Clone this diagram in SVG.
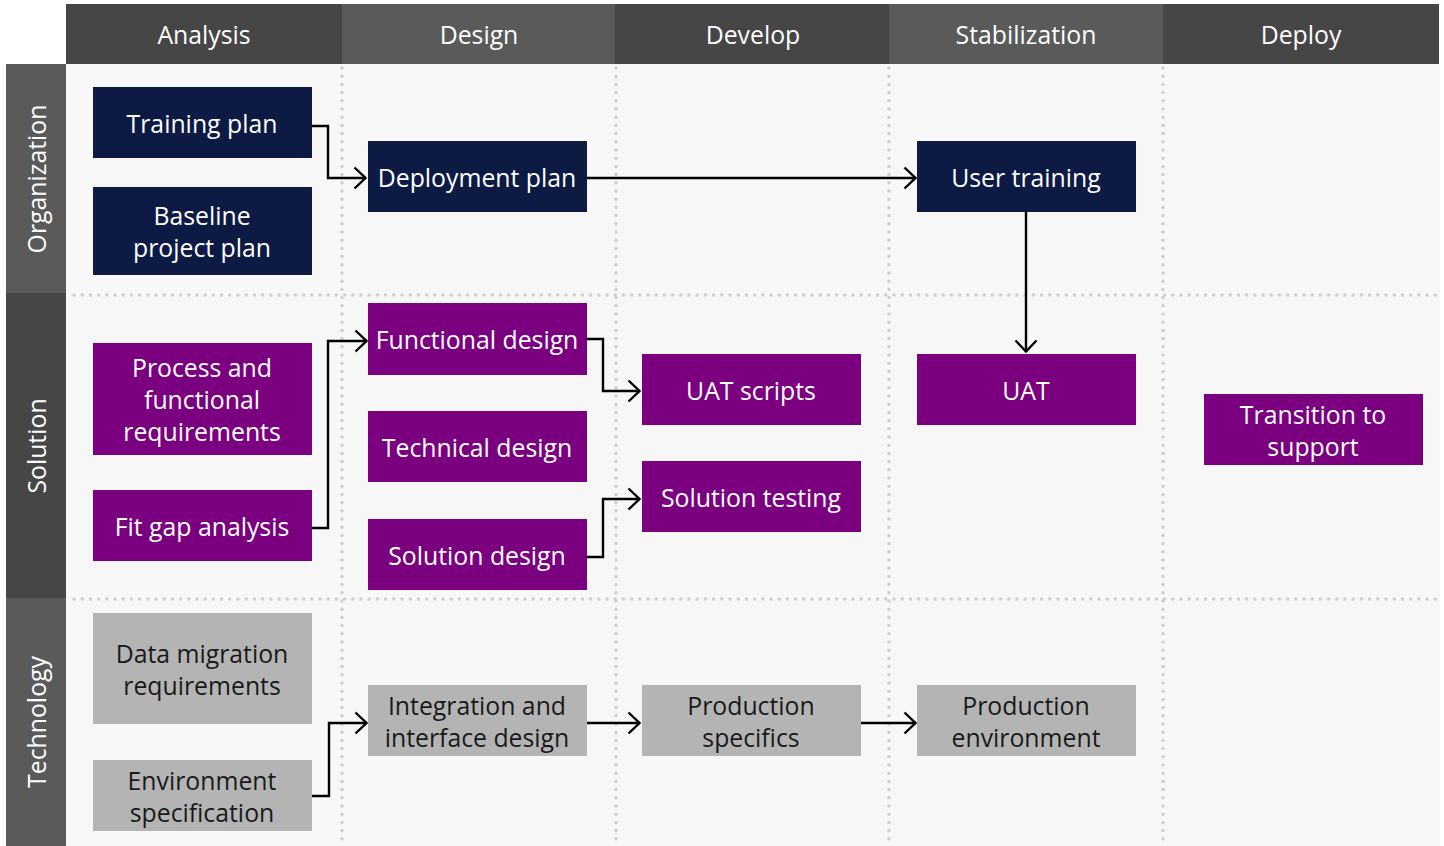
<svg xmlns="http://www.w3.org/2000/svg" width="1444" height="846" viewBox="0 0 1444 846">
<style>
text{font-family:"Open Sans","Noto Sans","Liberation Sans",sans-serif;font-size:24.8px;text-anchor:middle;dominant-baseline:central}
.hd{fill:#ffffff}
.w{fill:#ffffff}
.k{fill:#1a1a1a}
.navy{fill:#0c1a44}
.pur{fill:#7b007f}
.gry{fill:#b4b4b4}
.dot{stroke:#cfcfcf;stroke-width:3.5;stroke-linecap:round;stroke-dasharray:0 8.2;fill:none}
.c{stroke:#000;stroke-width:2.4;fill:none}
</style>
<defs>
<marker id="ah" viewBox="0 0 14 24" refX="13" refY="12" markerWidth="14" markerHeight="24" markerUnits="userSpaceOnUse" orient="auto">
<path d="M1.5,1.5 L12.5,12 L1.5,22.5" fill="none" stroke="#000" stroke-width="2.4"/>
</marker>
</defs>
<rect x="0" y="0" width="1444" height="846" fill="#ffffff"/>
<rect x="66" y="64" width="1374" height="782" fill="#f7f7f7"/>
<g id="headers">
<rect x="66" y="4" width="276" height="60" fill="#464646"/>
<rect x="342" y="4" width="273" height="60" fill="#5a5a5a"/>
<rect x="615" y="4" width="274" height="60" fill="#464646"/>
<rect x="889" y="4" width="274" height="60" fill="#5a5a5a"/>
<rect x="1163" y="4" width="276" height="60" fill="#464646"/>
<text class="hd" x="204" y="34">Analysis</text>
<text class="hd" x="479" y="34">Design</text>
<text class="hd" x="753" y="34">Develop</text>
<text class="hd" x="1026" y="34">Stabilization</text>
<text class="hd" x="1301" y="34">Deploy</text>
</g>
<g id="rows">
<rect x="6" y="64" width="60" height="229" fill="#5a5a5a"/>
<rect x="6" y="293" width="60" height="305" fill="#464646"/>
<rect x="6" y="598" width="60" height="248" fill="#5a5a5a"/>
<text class="hd" transform="translate(36,179) rotate(-90)">Organization</text>
<text class="hd" transform="translate(36,446) rotate(-90)">Solution</text>
<text class="hd" transform="translate(36,722) rotate(-90)">Technology</text>
</g>
<g id="grid">
<path class="dot" d="M342,68 V846 M616,68 V846 M889,68 V846 M1163,68 V846"/>
<path class="dot" d="M74,295 H1436 M74,599 H1436"/>
</g>
<g id="connectors">
<path class="c" marker-end="url(#ah)" d="M312,126 H328 V178 H366"/>
<path class="c" marker-end="url(#ah)" d="M587,178 H916"/>
<path class="c" marker-end="url(#ah)" d="M1026,212 V352"/>
<path class="c" marker-end="url(#ah)" d="M312,528 H328 V341 H367"/>
<path class="c" marker-end="url(#ah)" d="M587,339 H603 V391 H640"/>
<path class="c" marker-end="url(#ah)" d="M587,557 H603 V499 H640"/>
<path class="c" marker-end="url(#ah)" d="M312,796 H329 V723 H367"/>
<path class="c" marker-end="url(#ah)" d="M587,723 H640"/>
<path class="c" marker-end="url(#ah)" d="M861,723 H916"/>
</g>
<g id="training-plan"><rect class="navy" x="93" y="87" width="219" height="71"/><text class="w" x="202" y="123">Training plan</text></g>
<g id="baseline-project-plan"><rect class="navy" x="93" y="187" width="219" height="88"/><text class="w" x="202" y="215">Baseline</text><text class="w" x="202" y="247">project plan</text></g>
<g id="deployment-plan"><rect class="navy" x="368" y="141" width="219" height="71"/><text class="w" x="477" y="177">Deployment plan</text></g>
<g id="user-training"><rect class="navy" x="917" y="141" width="219" height="71"/><text class="w" x="1026" y="177">User training</text></g>
<g id="process-functional-requirements"><rect class="pur" x="93" y="343" width="219" height="112"/><text class="w" x="202" y="367">Process and</text><text class="w" x="202" y="399">functional</text><text class="w" x="202" y="431">requirements</text></g>
<g id="fit-gap-analysis"><rect class="pur" x="93" y="490" width="219" height="71"/><text class="w" x="202" y="526">Fit gap analysis</text></g>
<g id="functional-design"><rect class="pur" x="368" y="303" width="219" height="72"/><text class="w" x="477" y="339">Functional design</text></g>
<g id="technical-design"><rect class="pur" x="368" y="411" width="219" height="71"/><text class="w" x="477" y="447">Technical design</text></g>
<g id="solution-design"><rect class="pur" x="368" y="519" width="219" height="71"/><text class="w" x="477" y="555">Solution design</text></g>
<g id="uat-scripts"><rect class="pur" x="642" y="354" width="219" height="71"/><text class="w" x="751" y="390">UAT scripts</text></g>
<g id="solution-testing"><rect class="pur" x="642" y="461" width="219" height="71"/><text class="w" x="751" y="497">Solution testing</text></g>
<g id="uat"><rect class="pur" x="917" y="354" width="219" height="71"/><text class="w" x="1026" y="390">UAT</text></g>
<g id="transition-to-support"><rect class="pur" x="1204" y="394" width="219" height="71"/><text class="w" x="1313" y="414">Transition to</text><text class="w" x="1313" y="446">support</text></g>
<g id="data-migration-requirements"><rect class="gry" x="93" y="613" width="219" height="111"/><text class="k" x="202" y="653">Data migration</text><text class="k" x="202" y="685">requirements</text></g>
<g id="environment-specification"><rect class="gry" x="93" y="760" width="219" height="71"/><text class="k" x="202" y="780">Environment</text><text class="k" x="202" y="812">specification</text></g>
<g id="integration-interface-design"><rect class="gry" x="368" y="685" width="219" height="71"/><text class="k" x="477" y="705">Integration and</text><text class="k" x="477" y="737">interface design</text></g>
<g id="production-specifics"><rect class="gry" x="642" y="685" width="219" height="71"/><text class="k" x="751" y="705">Production</text><text class="k" x="751" y="737">specifics</text></g>
<g id="production-environment"><rect class="gry" x="917" y="685" width="219" height="71"/><text class="k" x="1026" y="705">Production</text><text class="k" x="1026" y="737">environment</text></g>
</svg>
